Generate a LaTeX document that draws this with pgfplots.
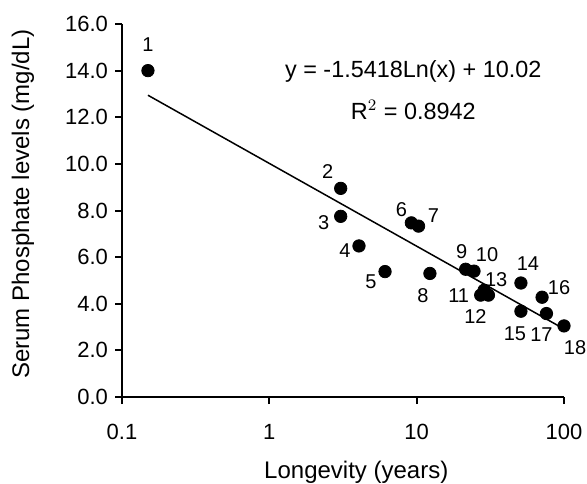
\documentclass[border=0pt]{standalone}
\usepackage{pgfplots}
\pgfplotsset{compat=1.18}
\usepackage{fontspec}
\setmainfont{Liberation Sans}

\begin{document}
\begin{tikzpicture}
\begin{axis}[
    name=ax,
    scale only axis,
    width=221pt, height=186.5pt,
    xmode=log,
    xmin=0.1, xmax=100,
    ymin=0, ymax=16,
    axis lines=left,
    axis line style={-, line width=1pt},
    xtick={0.1,1,10,100},
    xticklabels={0.1,1,10,100},
    xminorticks=false,
    ytick={0,2,...,16},
    tick align=outside,
    major tick length=3.5pt,
    tick style={line width=1pt, black},
    yticklabel={\pgfmathprintnumber[fixed,fixed zerofill,precision=1]{\tick}},
    /pgf/number format/assume math mode=true,
    ticklabel style={font=\fontsize{11}{13}\selectfont},
    xticklabel style={yshift=-6.5pt},
    xlabel={Longevity (years)},
    ylabel={Serum Phosphate levels (mg/dL)},
    label style={font=\fontsize{12}{14}\selectfont},
    xlabel style={at={(rel axis cs:0.53,-0.202)}, anchor=center},
    ylabel style={at={(rel axis cs:-0.224,0.517)}, anchor=center},
    clip=false,
]
\addplot[only marks, mark=*, mark size=3.1pt, black] coordinates {
    (0.15,14.0) (3.05,8.95) (3.05,7.75) (4.06,6.48) (6.1,5.38)
    (9.2,7.47) (10.3,7.33) (12.3,5.30) (21.5,5.48) (24.5,5.40)
    (27.2,4.37) (30.7,4.37) (28.7,4.58) (51,4.89) (51,3.68)
    (71,4.28) (76,3.58) (100,3.05)
};
% logarithmic trendline, straight on a log axis
\addplot[black, line width=0.75pt] coordinates {(0.15,12.945) (100,2.92)};

\begin{scope}[every node/.style={font=\fontsize{10}{12}\selectfont, inner sep=0pt}]
\node[xshift=0pt, yshift=12.8pt] at (axis cs:0.15,14.0) {1};
\node[xshift=-6.5pt, yshift=8.2pt] at (axis cs:3.05,8.95) {2};
\node[xshift=-8.5pt, yshift=-3pt] at (axis cs:3.05,7.75) {3};
\node[xshift=-7pt, yshift=-2.5pt] at (axis cs:4.06,6.48) {4};
\node[xshift=-7pt, yshift=-5pt] at (axis cs:6.1,5.38) {5};
\node[xshift=-5pt, yshift=6.5pt] at (axis cs:9.2,7.47) {6};
\node[xshift=7.5pt, yshift=5.5pt] at (axis cs:10.3,7.33) {7};
\node[xshift=-3.5pt, yshift=-11pt] at (axis cs:12.3,5.30) {8};
\node[xshift=-2pt, yshift=9pt] at (axis cs:21.5,5.48) {9};
\node[xshift=6.5pt, yshift=8.5pt] at (axis cs:24.5,5.40) {10};
\node[xshift=-11pt, yshift=0pt] at (axis cs:27.2,4.37) {11};
\node[xshift=-6.5pt, yshift=-10.5pt] at (axis cs:30.7,4.37) {12};
\node[xshift=6pt, yshift=5.5pt] at (axis cs:28.7,4.58) {13};
\node[xshift=3.5pt, yshift=9.5pt] at (axis cs:51,4.89) {14};
\node[xshift=-3pt, yshift=-11pt] at (axis cs:51,3.68) {15};
\node[xshift=8.5pt, yshift=5pt] at (axis cs:71,4.28) {16};
\node[xshift=-2.5pt, yshift=-10.5pt] at (axis cs:76,3.58) {17};
\node[xshift=5.5pt, yshift=-11pt] at (axis cs:100,3.05) {18};
\end{scope}

\node[font=\fontsize{11.7}{14}\selectfont] at (rel axis cs:0.659,0.873) {y = -1.5418Ln(x) + 10.02};
\node[font=\fontsize{11.7}{14}\selectfont] at (rel axis cs:0.659,0.770) {R$^2$ = 0.8942};

\coordinate (bl) at (rel axis cs:0,0);
\coordinate (tr) at (rel axis cs:1,1);
\end{axis}
\pgfresetboundingbox
\path ([shift={(-61pt,-43.2pt)}]bl) rectangle ([shift={(11.5pt,12pt)}]tr);
\end{tikzpicture}
\end{document}
